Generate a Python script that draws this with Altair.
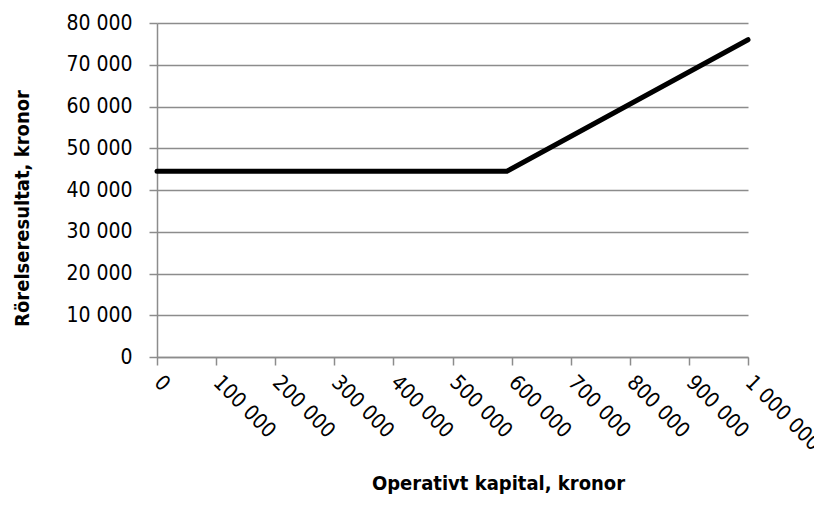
import altair as alt
import pandas as pd

capital = [0, 592000, 1000000]
result = [44500, 44500, 76000]

df = pd.DataFrame({"capital": capital, "result": result})

FONT = "DejaVu Sans Condensed"

x_ticks = list(range(0, 1000001, 100000))
y_ticks = list(range(0, 80001, 10000))

label_expr = "replace(format(datum.value, ',d'), /,/g, ' ')"

chart = alt.Chart(df).mark_line(color="black", strokeWidth=5, strokeJoin="round", strokeCap="round").encode(
    x=alt.X("capital:Q", scale=alt.Scale(domain=[0, 1000000], nice=False, zero=True),
            axis=alt.Axis(values=x_ticks, labelExpr=label_expr, title="Operativt kapital, kronor",
                          labelAngle=45, labelAlign="left", labelBaseline="middle",
                          labelPadding=14, labelOverlap=False, labelFlush=False,
                          grid=False, tickSize=8,
                          titleX=341, titleY=132, titleAlign="center", titleBaseline="alphabetic")),
    y=alt.Y("result:Q", scale=alt.Scale(domain=[0, 80000], nice=False),
            axis=alt.Axis(values=y_ticks, labelExpr=label_expr, title="Rörelseresultat, kronor",
                          labelPadding=17, grid=True, tickSize=8,
                          titleX=-125, titleY=185, titleAlign="center")),
).properties(
    width=591, height=334,
    autosize=alt.AutoSizeParams(type="none"),
    padding={"left": 149, "top": 15, "right": 66, "bottom": 150},
).configure_axis(
    labelFont=FONT, labelFontSize=21, labelColor="black",
    titleFont=FONT, titleFontSize=20, titleFontWeight="bold", titleColor="black",
    domainColor="#8c8c8c", tickColor="#8c8c8c", gridColor="#8c8c8c",
    domainWidth=1.5, tickWidth=1.5, gridWidth=1.5,
).configure_view(stroke=None)

chart.save("out.html", embed_options={"renderer": "svg", "actions": False})
